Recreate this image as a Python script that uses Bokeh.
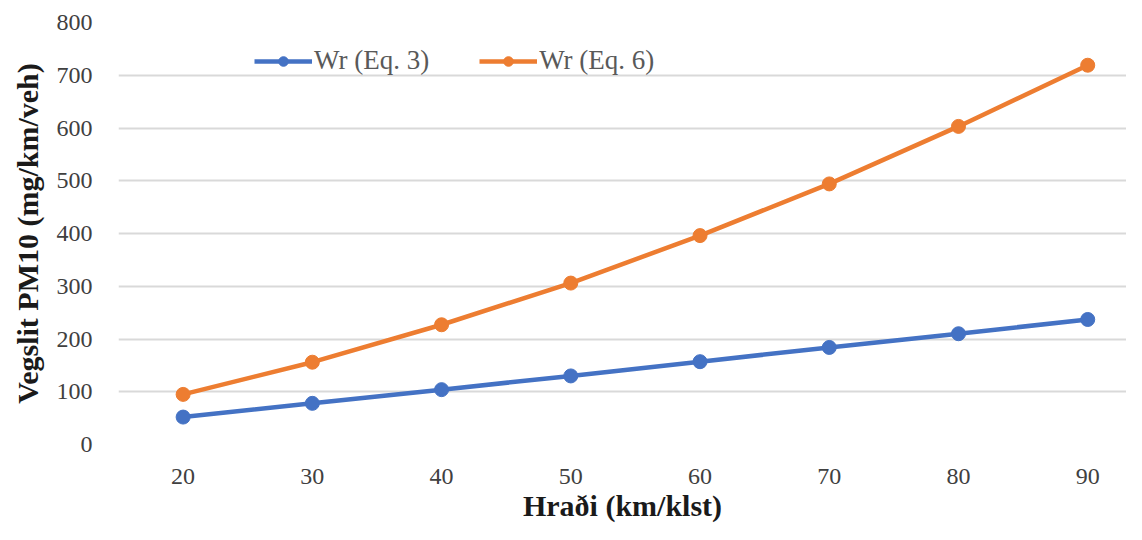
from bokeh.plotting import figure
from bokeh.models import ColumnDataSource, FixedTicker, Legend, LegendItem, Range1d
from bokeh.embed import file_html
from bokeh.resources import INLINE

speeds = [20, 30, 40, 50, 60, 70, 80, 90]
wr_eq3 = [52, 78, 104, 130, 157, 184, 210, 237]
wr_eq6 = [95, 156, 227, 306, 396, 494, 603, 719]
y_ticks = [0, 100, 200, 300, 400, 500, 600, 700, 800]

BLUE = "#4472c4"
ORANGE = "#ed7d31"
FONT = "Liberation Serif"

p = figure(width=1126, height=524, output_backend="svg", toolbar_location=None,
           x_range=Range1d(15, 93.0), y_range=Range1d(0, 800),
           min_border_left=118, min_border_right=0, min_border_top=22, min_border_bottom=76)
p.outline_line_color = None
p.background_fill_color = "white"
p.border_fill_color = "white"

src = ColumnDataSource(dict(x=speeds, a=wr_eq3, b=wr_eq6))
l1 = p.line("x", "a", source=src, line_color=BLUE, line_width=4.5)
c1 = p.scatter("x", "a", source=src, size=14, fill_color=BLUE, line_color=BLUE)
l2 = p.line("x", "b", source=src, line_color=ORANGE, line_width=4.5)
c2 = p.scatter("x", "b", source=src, size=14, fill_color=ORANGE, line_color=ORANGE)

p.xaxis.ticker = FixedTicker(ticks=speeds)
p.yaxis.ticker = FixedTicker(ticks=y_ticks)
for ax in (p.xaxis[0], p.yaxis[0]):
    ax.axis_line_color = None
    ax.major_tick_line_color = None
    ax.minor_tick_line_color = None
    ax.major_label_text_font = FONT
    ax.major_label_text_font_size = "24px"
    ax.major_label_text_color = "#404040"
    ax.axis_label_text_font = FONT
    ax.axis_label_text_font_size = "30px"
    ax.axis_label_text_font_style = "bold"
    ax.axis_label_text_color = "#1a1a1a"
p.xaxis.axis_label = "Hraði (km/klst)"
p.yaxis.axis_label = "Vegslit PM10 (mg/km/veh)"
p.yaxis.major_label_standoff = 20
p.xaxis.major_label_standoff = 18
p.xaxis.axis_label_standoff = 2
p.yaxis.axis_label_standoff = 10

p.xgrid.grid_line_color = None
p.ygrid.grid_line_color = "#d9d9d9"
p.ygrid.grid_line_width = 2

legend = Legend(items=[LegendItem(label="Wr (Eq. 3)", renderers=[l1, c1]),
                       LegendItem(label="Wr (Eq. 6)", renderers=[l2, c2])],
                orientation="horizontal", location=(136, 368),
                background_fill_alpha=0, border_line_color=None,
                label_text_font=FONT, label_text_font_size="27px",
                label_text_color="#595959", glyph_width=58, glyph_height=24,
                spacing=50, label_standoff=2, padding=4)
p.add_layout(legend, "center")

open("out.html", "w").write(file_html(p, INLINE))
